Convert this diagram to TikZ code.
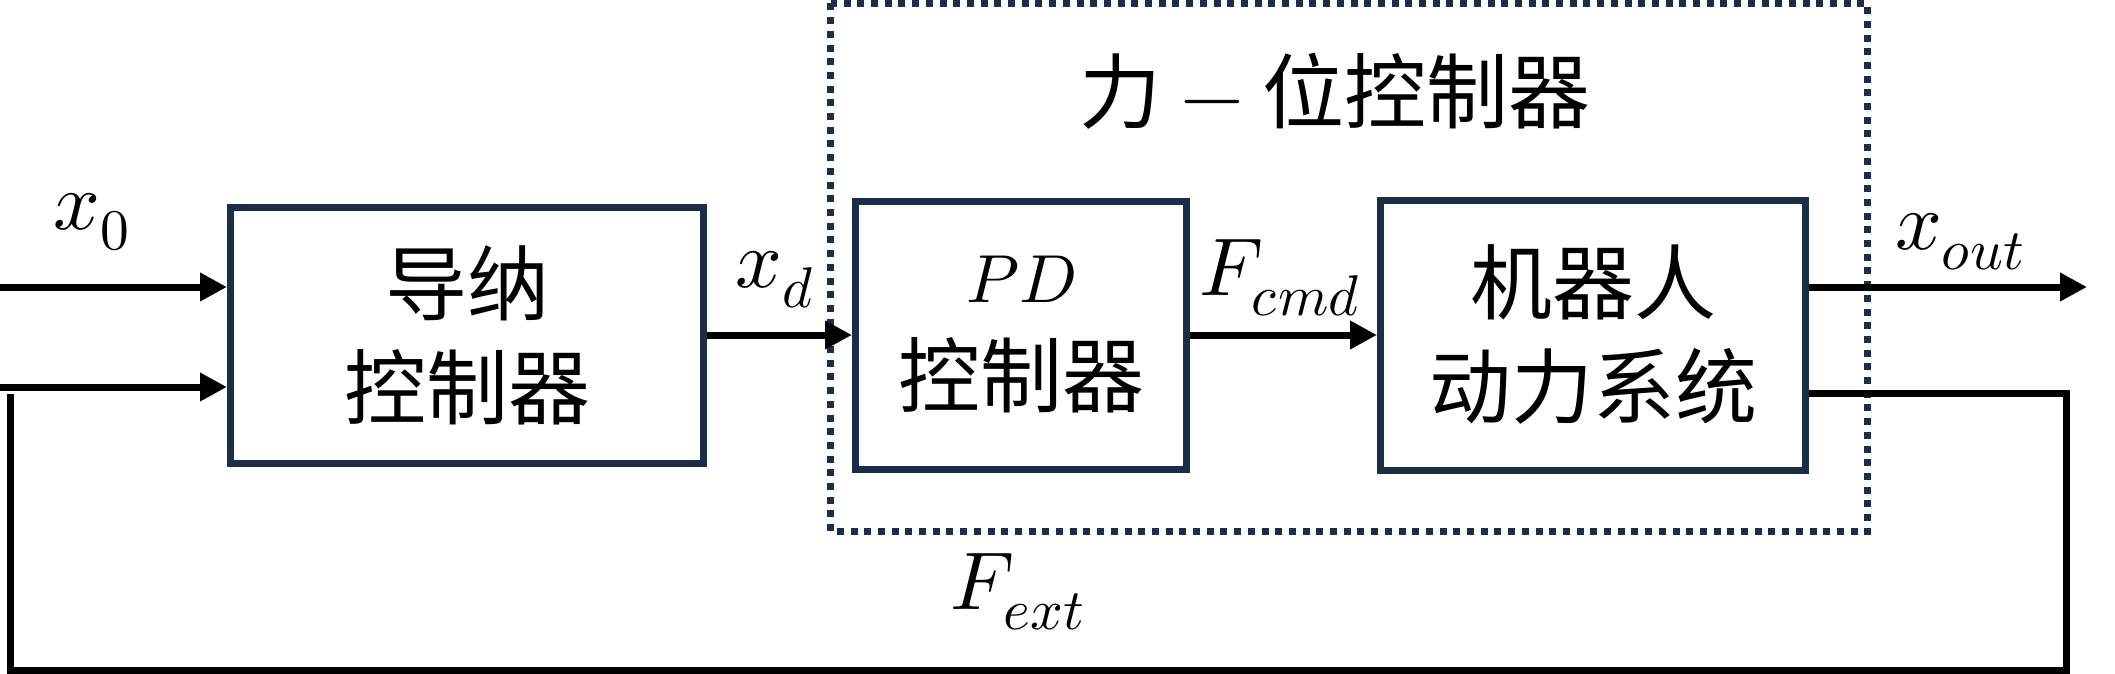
\documentclass[tikz,border=0pt]{standalone}
\usepackage{fontspec}
\usepackage{unicode-math}
\usepackage{xcolor}
\usepackage{tikz}
\usetikzlibrary{arrows.meta}
\newfontfamily\cjk{Noto Sans CJK SC}
\definecolor{boxnavy}{RGB}{26,46,72}

\begin{document}
\begin{tikzpicture}[x=0.5pt,y=0.5pt,yscale=-1,xscale=1,
  blk/.style={draw=boxnavy,line width=3.5pt,inner sep=0pt,align=center,font=\cjk\fontsize{41}{52}\selectfont},
  lbl/.style={inner sep=0pt,font=\fontsize{41}{46}\selectfont},
  ln/.style={line width=3.5pt},
  arr/.style={line width=3.5pt,-{Triangle[length=13.5pt,width=13.5pt]}},
  dotbox/.style={draw=boxnavy,line width=3.5pt,dash pattern={on 3.5pt off 3.35pt}}]
\useasboundingbox (0,0) rectangle (2115,674);

%Shape: Dotted frame
\draw[dotbox] (830.5,3.5) rectangle (1867.5,531.5);

%Shape: Blocks
\node[blk,minimum width=236.5pt,minimum height=128pt] (adm) at (467,335) {导纳\\控制器};
\node[blk,minimum width=165.5pt,minimum height=134pt] (pd) at (1021,335) {{\fontsize{34}{52}\selectfont$PD$}\\控制器};
\node[blk,minimum width=212.5pt,minimum height=135pt] (robot) at (1593,335) {机器人\\动力系统};

%Free ends
\coordinate (inL) at (0,287);
\coordinate (fbL) at (0,387);
\coordinate (outR) at (2087,287);
\coordinate (fbR) at (2066,393);
\coordinate (fbC) at (10,670);
\coordinate (fbT) at (10,394);

%Straight Lines
\draw[arr] (inL) -- (adm.west |- inL);
\draw[arr] (fbL) -- (adm.west |- fbL);
\draw[arr] (adm.east) -- (pd.west);
\draw[arr] (pd.east) -- (robot.west);
\draw[arr] (robot.east |- outR) -- (outR);
\draw[ln] (robot.east |- fbR) -- (fbR) |- (fbC) -- (fbT);

% Text Node
\node[lbl] (x0) at (92,222) {$x_0$};
% Text Node
\node[lbl] (xd) at (775,280) {$x_d$};
% Text Node
\node[lbl] (fcmd) at (1280,278) {$F_{cmd}$};
% Text Node
\node[lbl] (xout) at (1960,242) {$x_{out}$};
% Text Node
\node[lbl] (fext) at (1018,592) {$F_{ext}$};
% Text Node
\node[inner sep=0pt,font=\cjk\fontsize{41}{52}\selectfont] (title) at (1335,91) {力 $-$ 位控制器};

\end{tikzpicture}
\end{document}
